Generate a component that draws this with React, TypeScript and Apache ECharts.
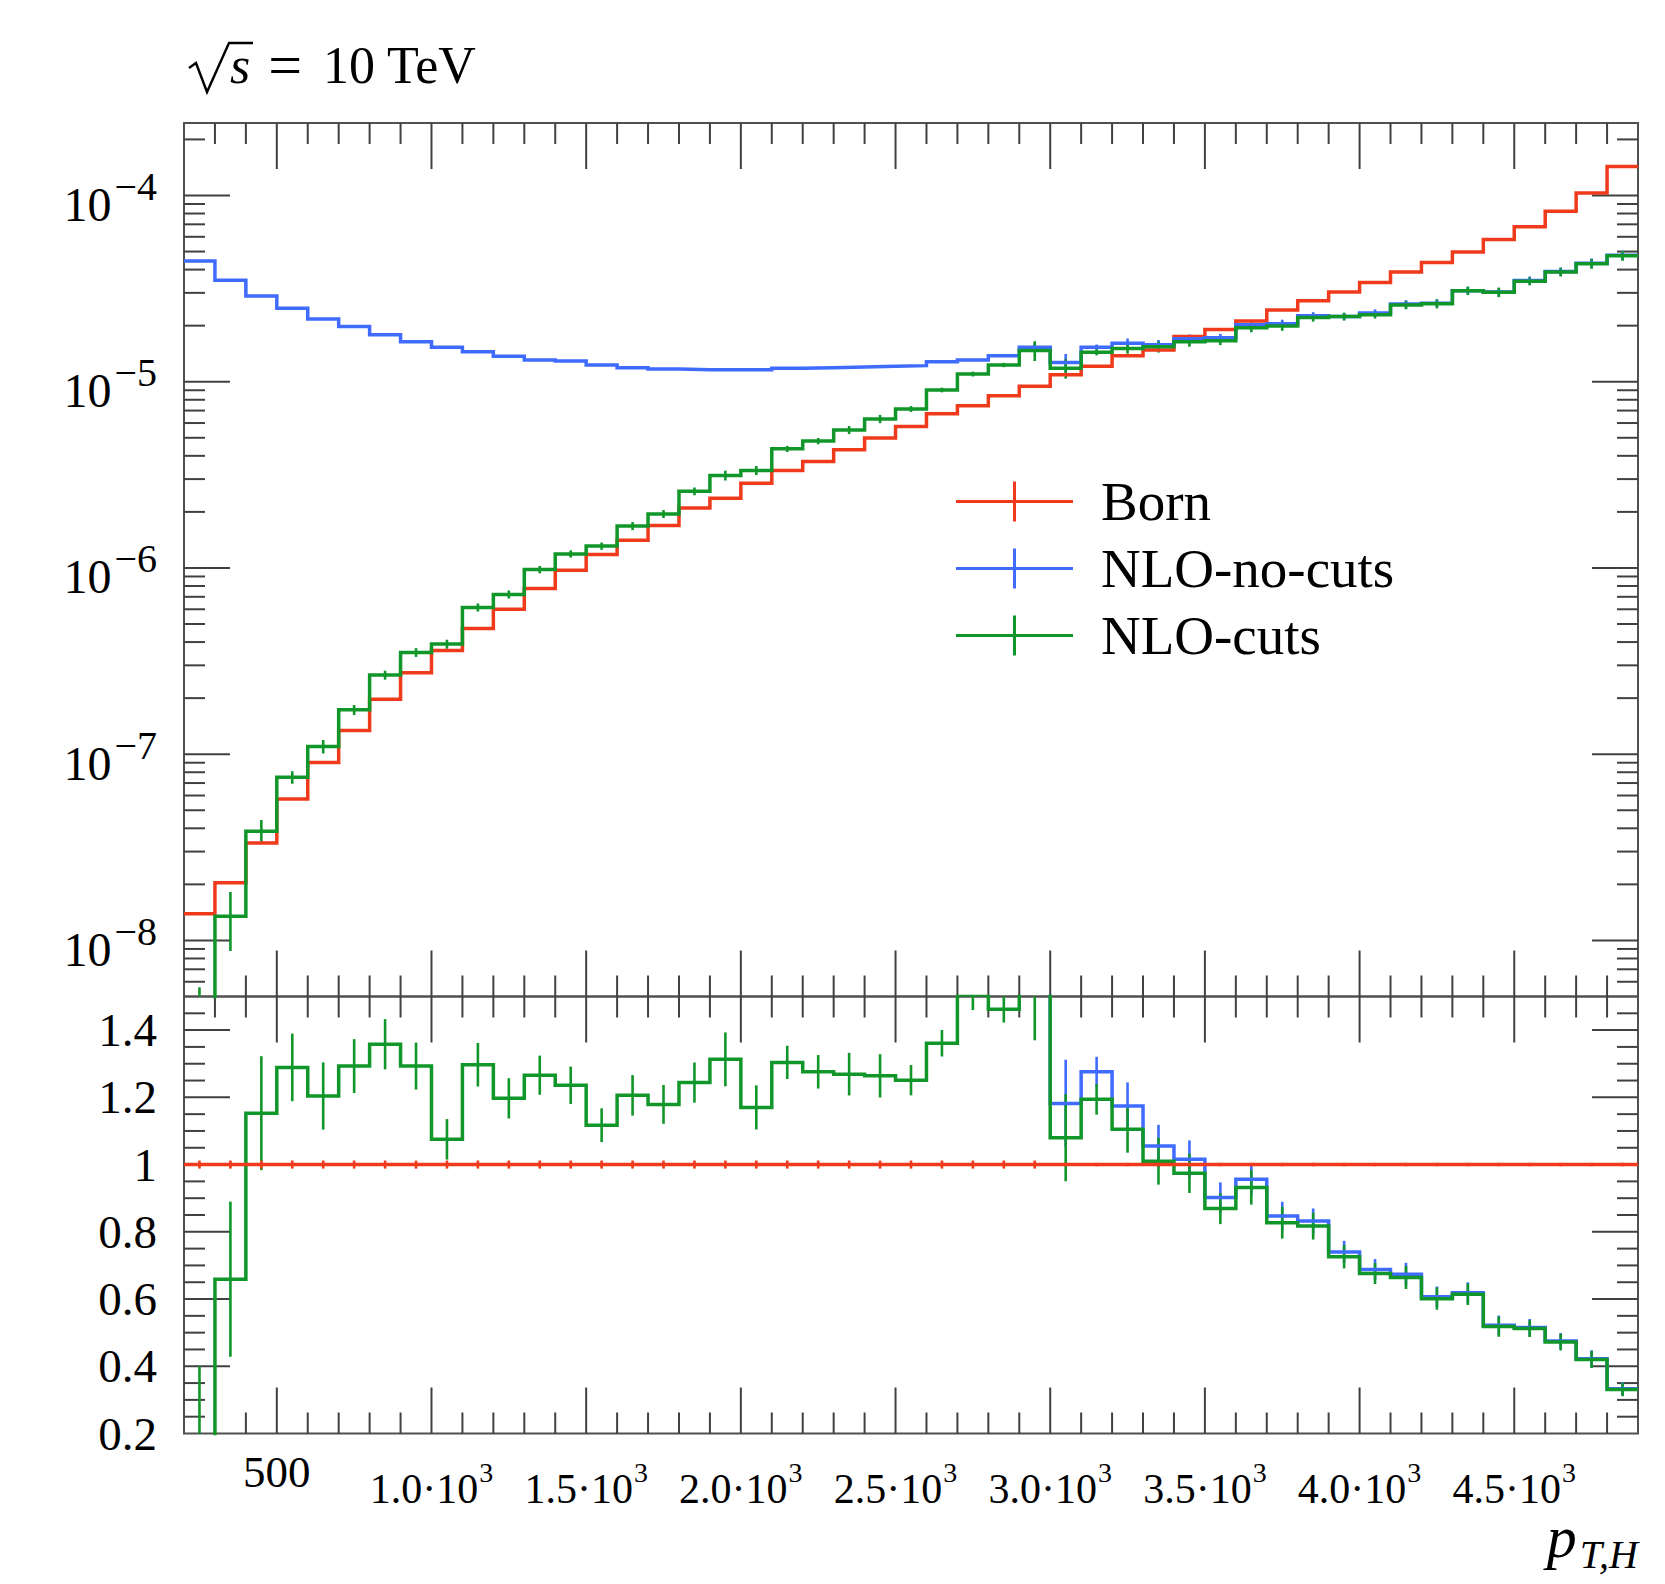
import React, { useEffect, useRef } from 'react';
import * as echarts from 'echarts';

// ---------------- data ----------------
const binEdges = [200, 300, 400, 500, 600, 700, 800, 900, 1000, 1100, 1200, 1300, 1400, 1500, 1600, 1700, 1800, 1900, 2000, 2100, 2200, 2300, 2400, 2500, 2600, 2700, 2800, 2900, 3000, 3100, 3200, 3300, 3400, 3500, 3600, 3700, 3800, 3900, 4000, 4100, 4200, 4300, 4400, 4500, 4600, 4700, 4800, 4900];

const born = [1.39e-8, 2.04e-8, 3.34e-8, 5.75e-8, 9.03e-8, 1.34e-7, 1.97e-7, 2.74e-7, 3.6e-7, 4.73e-7, 6.01e-7, 7.76e-7, 9.73e-7, 1.18e-6, 1.41e-6, 1.69e-6, 2.1e-6, 2.37e-6, 2.85e-6, 3.34e-6, 3.73e-6, 4.31e-6, 4.98e-6, 5.74e-6, 6.72e-6, 7.44e-6, 8.42e-6, 9.45e-6, 1.09e-5, 1.21e-5, 1.38e-5, 1.48e-5, 1.75e-5, 1.91e-5, 2.12e-5, 2.43e-5, 2.72e-5, 3.03e-5, 3.41e-5, 3.88e-5, 4.36e-5, 4.97e-5, 5.81e-5, 6.79e-5, 8.24e-5, 1.03e-4, 1.43e-4];

const nloNoCuts = [4.45e-5, 3.51e-5, 2.89e-5, 2.48e-5, 2.17e-5, 1.98e-5, 1.79e-5, 1.64e-5, 1.53e-5, 1.45e-5, 1.37e-5, 1.31e-5, 1.29e-5, 1.23e-5, 1.19e-5, 1.17e-5, 1.16e-5, 1.16e-5, 1.16e-5, 1.18e-5, 1.19e-5, 1.2e-5, 1.21e-5, 1.22e-5, 1.28e-5, 1.31e-5, 1.38e-5, 1.53e-5, 1.27e-5, 1.53e-5, 1.61e-5, 1.58e-5, 1.7e-5, 1.72e-5, 2.02e-5, 2.05e-5, 2.26e-5, 2.24e-5, 2.34e-5, 2.61e-5, 2.64e-5, 3.08e-5, 3.03e-5, 3.5e-5, 3.91e-5, 4.33e-5, 4.77e-5];

const nloCuts = [1.4e-9, 1.35e-8, 3.86e-8, 7.52e-8, 1.1e-7, 1.73e-7, 2.66e-7, 3.52e-7, 3.9e-7, 6.14e-7, 7.21e-7, 9.8e-7, 1.19e-6, 1.31e-6, 1.68e-6, 1.95e-6, 2.58e-6, 3.14e-6, 3.34e-6, 4.36e-6, 4.8e-6, 5.51e-6, 6.31e-6, 7.14e-6, 9.03e-6, 1.1e-5, 1.23e-5, 1.47e-5, 1.18e-5, 1.44e-5, 1.51e-5, 1.54e-5, 1.64e-5, 1.66e-5, 1.95e-5, 1.99e-5, 2.21e-5, 2.24e-5, 2.29e-5, 2.58e-5, 2.62e-5, 3.08e-5, 3.02e-5, 3.46e-5, 3.88e-5, 4.3e-5, 4.75e-5];

const ratioBorn = [1, 1, 1, 1, 1, 1, 1, 1, 1, 1, 1, 1, 1, 1, 1, 1, 1, 1, 1, 1, 1, 1, 1, 1, 1, 1, 1, 1, 1, 1, 1, 1, 1, 1, 1, 1, 1, 1, 1, 1, 1, 1, 1, 1, 1, 1, 1];

const ratioNoCuts = [3200, 1720, 865, 431, 240, 148, 91, 60, 42, 31, 23, 17, 13, 10.4, 8.4, 6.9, 5.5, 4.9, 4.1, 3.5, 3.2, 2.8, 2.4, 2.1, 1.9, 1.76, 1.64, 1.62, 1.182, 1.276, 1.174, 1.055, 1.016, 0.902, 0.956, 0.847, 0.832, 0.74, 0.688, 0.674, 0.607, 0.619, 0.522, 0.515, 0.475, 0.422, 0.333];

const ratioCuts = [0.1, 0.659, 1.153, 1.289, 1.204, 1.293, 1.358, 1.293, 1.075, 1.297, 1.197, 1.266, 1.236, 1.117, 1.206, 1.179, 1.244, 1.313, 1.17, 1.304, 1.276, 1.269, 1.264, 1.251, 1.361, 1.505, 1.462, 1.56, 1.08, 1.194, 1.105, 1.01, 0.974, 0.869, 0.932, 0.827, 0.817, 0.726, 0.676, 0.664, 0.601, 0.614, 0.518, 0.512, 0.472, 0.42, 0.331];

// relative uncertainties (error bars)
const bornRelErr = [0.012, 0.012, 0.012, 0.012, 0.012, 0.012, 0.012, 0.012, 0.012, 0.012, 0.012, 0.012, 0.012, 0.012, 0.012, 0.012, 0.012, 0.012, 0.012, 0.012, 0.012, 0.012, 0.012, 0.012, 0.012, 0.012, 0.012, 0.012, 0.005, 0.005, 0.005, 0.005, 0.005, 0.005, 0.005, 0.005, 0.005, 0.005, 0.005, 0.005, 0.005, 0.005, 0.005, 0.005, 0.005, 0.005, 0.005];
const noCutsRelErr = [0.01, 0.01, 0.01, 0.01, 0.01, 0.01, 0.01, 0.01, 0.01, 0.01, 0.01, 0.01, 0.01, 0.01, 0.01, 0.01, 0.01, 0.01, 0.01, 0.01, 0.01, 0.01, 0.01, 0.01, 0.01, 0.01, 0.01, 0.05, 0.11, 0.035, 0.06, 0.06, 0.055, 0.05, 0.05, 0.05, 0.045, 0.045, 0.045, 0.05, 0.05, 0.05, 0.055, 0.05, 0.05, 0.06, 0.06];
const cutsRelErr = [3.0, 0.35, 0.147, 0.078, 0.083, 0.062, 0.055, 0.054, 0.056, 0.05, 0.05, 0.046, 0.045, 0.045, 0.05, 0.049, 0.048, 0.061, 0.056, 0.038, 0.039, 0.05, 0.051, 0.036, 0.029, 0.03, 0.027, 0.122, 0.12, 0.038, 0.063, 0.069, 0.06, 0.053, 0.055, 0.057, 0.049, 0.048, 0.046, 0.051, 0.055, 0.052, 0.058, 0.049, 0.053, 0.06, 0.06];

// axis ticks and labels
const xMajorTicks = [500, 1000, 1500, 2000, 2500, 3000, 3500, 4000, 4500];
const xMinorTicks = [300, 400, 600, 700, 800, 900, 1100, 1200, 1300, 1400, 1600, 1700, 1800, 1900, 2100, 2200, 2300, 2400, 2600, 2700, 2800, 2900, 3100, 3200, 3300, 3400, 3600, 3700, 3800, 3900, 4100, 4200, 4300, 4400, 4600, 4700, 4800];
const xLabelValues = [500, 1000, 1500, 2000, 2500, 3000, 3500, 4000, 4500];
const xLabelTexts = ['500', '1.0·10^3', '1.5·10^3', '2.0·10^3', '2.5·10^3', '3.0·10^3', '3.5·10^3', '4.0·10^3', '4.5·10^3'];

const yUpperMajorTicks = [1e-8, 1e-7, 1e-6, 1e-5, 1e-4];
const yUpperMinorTicks = [6e-9, 7e-9, 8e-9, 9e-9, 2e-8, 3e-8, 4e-8, 5e-8, 6e-8, 7e-8, 8e-8, 9e-8, 2e-7, 3e-7, 4e-7, 5e-7, 6e-7, 7e-7, 8e-7, 9e-7, 2e-6, 3e-6, 4e-6, 5e-6, 6e-6, 7e-6, 8e-6, 9e-6, 2e-5, 3e-5, 4e-5, 5e-5, 6e-5, 7e-5, 8e-5, 9e-5, 2e-4];
const yUpperLabelExps = [-8, -7, -6, -5, -4];

const yLowerMajorTicks = [0.4, 0.6, 0.8, 1.0, 1.2, 1.4];
const yLowerMinorTicks = [0.25, 0.3, 0.35, 0.45, 0.5, 0.55, 0.65, 0.7, 0.75, 0.85, 0.9, 0.95, 1.05, 1.1, 1.15, 1.25, 1.3, 1.35, 1.45];
const yLowerLabelValues = [0.2, 0.4, 0.6, 0.8, 1.0, 1.2, 1.4];
const yLowerLabelTexts = ['0.2', '0.4', '0.6', '0.8', '1', '1.2', '1.4'];

const seriesNames = ['Born', 'NLO-no-cuts', 'NLO-cuts'];

// ---------------- style ----------------
const FONT = "'Liberation Serif', 'Times New Roman', serif";
const RED = '#f03a1c';
const BLUE = '#3f6bff';
const GREEN = '#11962a';
const FRAME = '#505050';
const TICK = '#404040';
const MAJOR_LEN = 46;
const MINOR_LEN = 21;
const LINE_W = 3.5;
const ERR_W = 2.6;

const binCenters = born.map((_, i) => (binEdges[i] + binEdges[i + 1]) / 2);

function stepData(vals: number[]) {
  return binEdges.map((x, i) => [x, vals[Math.min(i, vals.length - 1)]]);
}

function stepSeries(name: string, color: string, vals: number[], idx: number) {
  return {
    name,
    type: 'line',
    step: 'end',
    xAxisIndex: idx,
    yAxisIndex: idx,
    data: stepData(vals),
    symbol: 'none',
    showSymbol: false,
    color,
    itemStyle: { color },
    lineStyle: { color, width: LINE_W, join: 'miter', cap: 'butt' },
    emphasis: { disabled: true },
    silent: true,
    clip: true,
    z: 3,
  };
}

function errSeries(name: string, color: string, vals: number[], rel: number[], idx: number, floor: number) {
  const data = vals.map((v, i) => [binCenters[i], Math.max(v * (1 - rel[i]), floor), v * (1 + rel[i])]);
  return {
    name,
    type: 'custom',
    xAxisIndex: idx,
    yAxisIndex: idx,
    color,
    silent: true,
    clip: true,
    z: 3,
    encode: { x: 0, y: [1, 2] },
    data,
    renderItem: (params: any, api: any) => {
      const a = api.coord([api.value(0), api.value(1)]);
      const b = api.coord([api.value(0), api.value(2)]);
      return {
        type: 'line',
        shape: { x1: a[0], y1: a[1], x2: b[0], y2: b[1] },
        style: { stroke: color, lineWidth: ERR_W },
      };
    },
  };
}

function tickSeries(idx: number, yMaj: number[], yMin: number[], xRef: number, yRef: number) {
  const data: number[][] = [];
  xMajorTicks.forEach((v) => data.push([v, yRef, 0]));
  xMinorTicks.forEach((v) => data.push([v, yRef, 1]));
  yMaj.forEach((v) => data.push([xRef, v, 2]));
  yMin.forEach((v) => data.push([xRef, v, 3]));
  return {
    name: '__ticks' + idx,
    type: 'custom',
    xAxisIndex: idx,
    yAxisIndex: idx,
    silent: true,
    clip: false,
    z: 1,
    encode: { x: 0, y: 1 },
    data,
    renderItem: (params: any, api: any) => {
      const cs = params.coordSys;
      const p = api.coord([api.value(0), api.value(1)]);
      const kind = api.value(2);
      const style = { stroke: TICK, lineWidth: 2 };
      if (kind < 2) {
        const len = kind === 0 ? MAJOR_LEN : MINOR_LEN;
        return {
          type: 'group',
          children: [
            { type: 'line', shape: { x1: p[0], y1: cs.y, x2: p[0], y2: cs.y + len }, style },
            { type: 'line', shape: { x1: p[0], y1: cs.y + cs.height, x2: p[0], y2: cs.y + cs.height - len }, style },
          ],
        };
      }
      const len = kind === 2 ? MAJOR_LEN : MINOR_LEN;
      return {
        type: 'group',
        children: [
          { type: 'line', shape: { x1: cs.x, y1: p[1], x2: cs.x + len, y2: p[1] }, style },
          { type: 'line', shape: { x1: cs.x + cs.width, y1: p[1], x2: cs.x + cs.width - len, y2: p[1] }, style },
        ],
      };
    },
  };
}

function buildOption() {
  const hiddenAxisParts = {
    axisLine: { show: false },
    axisTick: { show: false },
    splitLine: { show: false },
    minorTick: { show: false },
    minorSplitLine: { show: false },
  };
  const txt = { fontFamily: FONT, fontWeight: 'normal', color: '#000' };
  return {
    animation: false,
    backgroundColor: '#ffffff',
    title: [
      {
        text: '{s|s}{eq|=}{n|10 TeV}',
        left: 230,
        top: 35,
        padding: 0,
        textStyle: {
          fontWeight: 'normal',
          rich: {
            s: { ...txt, fontStyle: 'italic', fontSize: 52, lineHeight: 60 },
            eq: { ...txt, fontSize: 60, lineHeight: 60, padding: [0, 21, 0, 18] },
            n: { ...txt, fontSize: 52, lineHeight: 60 },
          },
        },
      },
      {
        text: '{p|p}{sub|T,H}',
        right: 27,
        top: 1507,
        padding: 0,
        textStyle: {
          fontWeight: 'normal',
          rich: {
            p: { ...txt, fontStyle: 'italic', fontSize: 60, lineHeight: 60, verticalAlign: 'top' },
            sub: { ...txt, fontStyle: 'italic', fontSize: 40, lineHeight: 40, verticalAlign: 'top', padding: [27, 0, 0, 3] },
          },
        },
      },
    ],
    graphic: [
      {
        type: 'polyline',
        silent: true,
        shape: { points: [[189, 68], [196, 63], [207, 92], [229, 43], [253, 43]] },
        style: { stroke: '#000', lineWidth: 2.4, fill: null },
      },
    ],
    legend: {
      data: seriesNames,
      orient: 'vertical',
      left: 956,
      top: 474,
      padding: 0,
      itemWidth: 117,
      itemHeight: 40,
      itemGap: 12,
      icon: 'path://M0,18.5L117,18.5L117,21.5L0,21.5Z M57,0L60,0L60,40L57,40Z',
      itemStyle: { borderWidth: 0 },
      selectedMode: false,
      textStyle: { fontFamily: FONT, fontSize: 55, lineHeight: 54, color: '#000', padding: [0, 0, 0, 23] },
    },
    grid: [
      { left: 184, right: 27, top: 123, height: 873.5, show: true, borderColor: FRAME, borderWidth: 2, backgroundColor: 'transparent', containLabel: false, outerBoundsMode: 'none' },
      { left: 184, right: 27, top: 996.5, height: 437, show: true, borderColor: FRAME, borderWidth: 2, backgroundColor: 'transparent', containLabel: false, outerBoundsMode: 'none' },
    ],
    xAxis: [
      { gridIndex: 0, type: 'value', min: 200, max: 4900, interval: 100, ...hiddenAxisParts, axisLabel: { show: false } },
      {
        gridIndex: 1,
        type: 'value',
        min: 200,
        max: 4900,
        interval: 100,
        ...hiddenAxisParts,
        axisLabel: {
          show: true,
          margin: 16,
          showMinLabel: true,
          showMaxLabel: true,
          color: '#000',
          fontFamily: FONT,
          formatter: (v: number) => {
            const r = Math.round(v);
            const i = xLabelValues.indexOf(r);
            if (i < 0 || Math.abs(v - r) > 1e-6) return '';
            const parts = xLabelTexts[i].split('^');
            return parts.length > 1 ? `{b|${parts[0]}}{s|${parts[1]}}` : `{a|${parts[0]}}`;
          },
          rich: {
            a: { ...txt, fontSize: 45, lineHeight: 60, verticalAlign: 'bottom', padding: [0, 0, 15, 0] },
            b: { ...txt, fontSize: 42, lineHeight: 60, verticalAlign: 'bottom' },
            s: { ...txt, fontSize: 28, lineHeight: 28, verticalAlign: 'bottom', padding: [0, 0, 23, 1] },
          },
        },
      },
    ],
    yAxis: [
      {
        gridIndex: 0,
        type: 'log',
        logBase: 10,
        min: 5e-9,
        max: 2.45e-4,
        ...hiddenAxisParts,
        axisLabel: {
          show: true,
          margin: 27,
          showMinLabel: true,
          showMaxLabel: true,
          color: '#000',
          fontFamily: FONT,
          formatter: (v: number) => {
            const e = Math.log10(v);
            const r = Math.round(e);
            if (Math.abs(e - r) > 1e-6 || yUpperLabelExps.indexOf(r) < 0) return '';
            return `{b|10}{s|\u2212${-r}}`;
          },
          rich: {
            b: { ...txt, fontSize: 48, lineHeight: 80, verticalAlign: 'bottom', padding: [0, 0, 7, 0] },
            s: { ...txt, fontSize: 40, lineHeight: 40, verticalAlign: 'bottom', padding: [0, 0, 29, 3] },
          },
        },
      },
      {
        gridIndex: 1,
        type: 'value',
        min: 0.2,
        max: 1.5,
        interval: 0.2,
        ...hiddenAxisParts,
        axisLabel: {
          show: true,
          margin: 27,
          showMinLabel: true,
          showMaxLabel: true,
          color: '#000',
          fontFamily: FONT,
          fontSize: 47,
          formatter: (v: number) => {
            const i = yLowerLabelValues.findIndex((u) => Math.abs(u - v) < 1e-6);
            return i < 0 ? '' : yLowerLabelTexts[i];
          },
        },
      },
    ],
    series: [
      tickSeries(0, yUpperMajorTicks, yUpperMinorTicks, 1000, 1e-6),
      tickSeries(1, yLowerMajorTicks, yLowerMinorTicks, 1000, 1),
      // upper panel
      stepSeries('Born', RED, born, 0),
      errSeries('Born', RED, born, bornRelErr, 0, 1e-12),
      stepSeries('NLO-no-cuts', BLUE, nloNoCuts, 0),
      errSeries('NLO-no-cuts', BLUE, nloNoCuts, noCutsRelErr, 0, 1e-12),
      stepSeries('NLO-cuts', GREEN, nloCuts, 0),
      errSeries('NLO-cuts', GREEN, nloCuts, cutsRelErr, 0, 1e-12),
      // ratio panel
      stepSeries('NLO-no-cuts', BLUE, ratioNoCuts, 1),
      errSeries('NLO-no-cuts', BLUE, ratioNoCuts, noCutsRelErr, 1, -10),
      stepSeries('NLO-cuts', GREEN, ratioCuts, 1),
      errSeries('NLO-cuts', GREEN, ratioCuts, cutsRelErr, 1, -10),
      stepSeries('Born', RED, ratioBorn, 1),
      errSeries('Born', RED, ratioBorn, bornRelErr, 1, -10),
    ],
  };
}

export default function App() {
  const ref = useRef<HTMLDivElement>(null);
  useEffect(() => {
    if (!ref.current) return;
    const chart = echarts.init(ref.current, null, { renderer: 'svg' });
    chart.setOption(buildOption() as any);
    return () => {
      chart.dispose();
    };
  }, []);
  return (
    <div
      ref={ref}
      style={{ position: 'absolute', left: 0, top: 0, width: 1665, height: 1584, background: '#ffffff' }}
    />
  );
}
